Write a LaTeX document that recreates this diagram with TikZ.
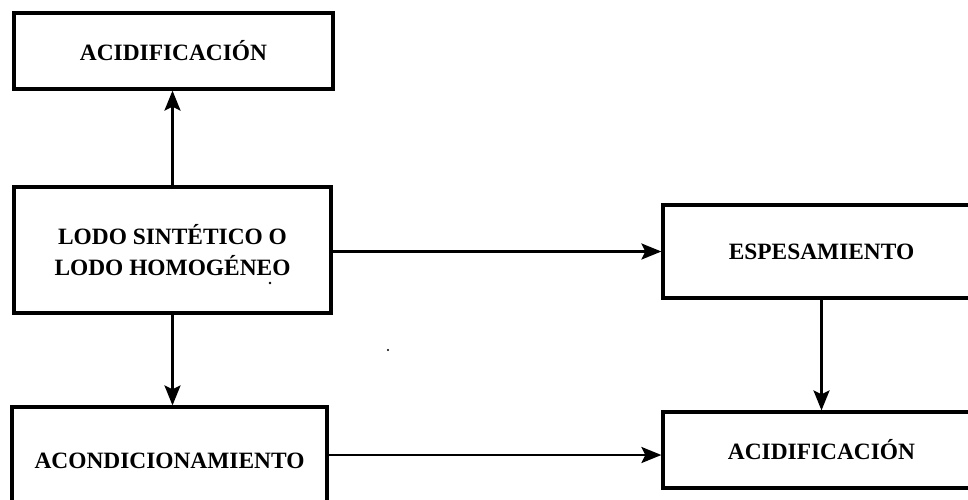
\documentclass[tikz,border=0pt]{standalone}
\usepackage{fontspec}
\setmainfont{Liberation Serif}
\usetikzlibrary{arrows.meta}
\begin{document}
\begin{tikzpicture}[x=1pt,y=-1pt,
  box/.style={draw, line width=3.2pt, rectangle, align=center, inner sep=0pt,
    font=\fontsize{23.4}{31}\selectfont\bfseries},
  flow/.style={line width=2.8pt, -{Stealth[length=20pt,width=16pt,inset=4pt]}}]
\useasboundingbox (0,0) rectangle (968,499);
\clip (0,0) rectangle (968,499);
% process boxes
\node[box, minimum width=319pt, minimum height=76pt] (acid1) at (173.5,51) {ACIDIFICACIÓN};
\node[box, minimum width=317pt, minimum height=126pt] (lodo) at (172.5,250) {LODO SINTÉTICO O\\LODO HOMOGÉNEO};
\node[box, minimum width=315pt, minimum height=108pt] (acond) at (169.5,461) {ACONDICIONAMIENTO};
\node[box, minimum width=317pt, minimum height=93pt] (esp) at (821.5,251.5) {ESPESAMIENTO};
\node[box, minimum width=317pt, minimum height=76pt] (acid2) at (821.5,450) {ACIDIFICACIÓN};
% flow between stages
\coordinate (lowrow) at (0,455);
\draw[flow] (lodo.north) -- (lodo.north |- acid1.south);
\draw[flow] (lodo.south) -- (lodo.south |- acond.north);
\draw[flow] (lodo.east |- esp.west) -- (esp.west);
\draw[flow] (acond.east |- lowrow) -- (acid2.west |- lowrow);
\draw[flow] (esp.south) -- (esp.south |- acid2.north);
% small specks
\fill (270,283) circle (1.3pt);
\fill (388,350) circle (1.1pt);
\end{tikzpicture}
\end{document}
